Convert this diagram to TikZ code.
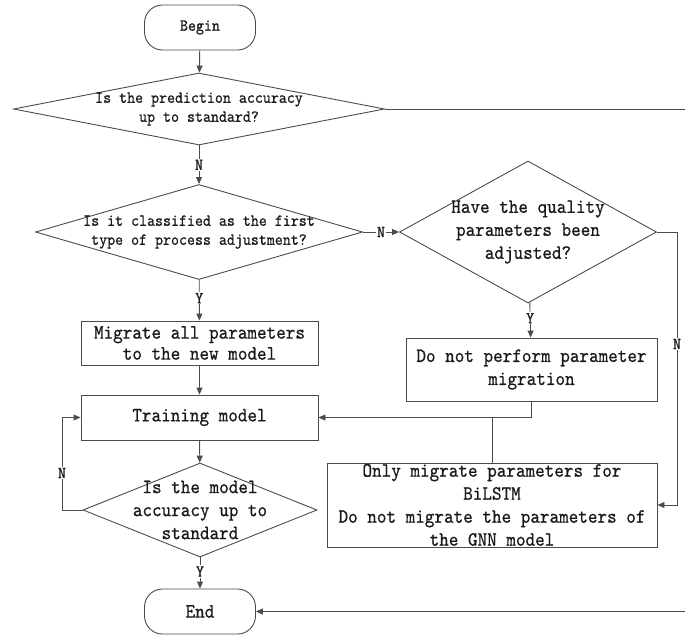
\documentclass[tikz,border=0pt]{standalone}
\usepackage{fontspec}
\newfontfamily\flowfont[FakeStretch=0.9,FakeBold=0.6]{lmmono10-regular.otf}
\usetikzlibrary{shapes.geometric,arrows.meta}
\newcommand{\bigtxt}{\fontsize{20.3}{23}\selectfont\flowfont}
\newcommand{\smalltxt}{\fontsize{16.9}{19}\selectfont\flowfont}
\begin{document}
\begin{tikzpicture}[x=1pt,y=-1pt,
  ln/.style={draw=black!70,line width=0.9pt},
  arr/.style={ln,-{Triangle[length=7pt,width=6pt]}},
  term/.style={ln,rectangle,rounded corners=18pt,minimum width=111pt,minimum height=45pt,inner sep=0pt},
  proc/.style={ln,rectangle,inner sep=0pt},
  dec/.style={ln,diamond,inner sep=0pt},
  btxt/.style={font=\bigtxt,align=center,inner sep=0pt,text=black!90},
  stxt/.style={font=\smalltxt,align=center,inner sep=0pt,text=black!90},
  lbl/.style={font=\smalltxt,fill=white,inner sep=1pt,text=black!90}]
\useasboundingbox (0,0) rectangle (685,635);
% shapes
\node[term] (begin) at (200,27.5) {};
\node[stxt] (begint) at (begin) {Begin};
\node[dec,minimum width=371pt,minimum height=72pt] (d1) at (199,109) {};
\node[stxt] (d1t) at (d1) {Is the prediction accuracy\\up to standard?};
\node[dec,minimum width=327pt,minimum height=95pt] (d2) at (199,232) {};
\node[stxt] (d2t) at (d2) {Is it classified as the first\\type of process adjustment?};
\node[dec,minimum width=257pt,minimum height=142pt] (d3) at (528,232) {};
\node[btxt] (d3t) at (d3) {Have the quality\\parameters been\\adjusted?};
\node[proc,minimum width=237pt,minimum height=44pt] (mig) at (199.5,343) {};
\node[btxt,font=\fontsize{20.3}{21}\selectfont\flowfont] (migt) at (mig) {Migrate all parameters\\to the new model};
\node[proc,minimum width=251pt,minimum height=63pt] (dnp) at (531.5,369.5) {};
\node[btxt] (dnpt) at (dnp) {Do not perform parameter\\migration};
\node[proc,minimum width=237pt,minimum height=45pt] (train) at (199.5,417.5) {};
\node[btxt] (traint) at (train) {Training model};
\node[proc,minimum width=330pt,minimum height=84pt] (only) at (492,505) {};
\node[btxt] (onlyt) at (only) {Only migrate parameters for\\BiLSTM\\Do not migrate the parameters of\\the GNN model};
\node[dec,minimum width=234pt,minimum height=94pt] (d4) at (200,510) {};
\node[btxt] (d4t) at (d4) {Is the model\\accuracy up to\\standard};
\node[term] (end) at (200,611.5) {};
\node[btxt] (endt) at (end) {End};
% helper coordinates
\coordinate (cR) at (677,232);
\coordinate (cL) at (62,510);
\coordinate (cF) at (692,109);
% connectors
\draw[arr] (begin) -- (d1);
\draw[arr] (d1) -- node[lbl,pos=0.5]{N} (d2);
\draw[arr] (d2.east) -- node[lbl,pos=0.5]{N} (d3.west);
\draw[arr] (d2) -- node[lbl,pos=0.45]{Y} (mig);
\draw[arr] (d3) -- node[lbl,pos=0.45]{Y} (dnp);
\draw[arr] (d3.east) -- (cR) -- node[lbl,pos=0.41]{N} (cR |- only.east) -- (only.east);
\draw[arr] (mig) -- (train);
\draw[arr] (dnp.south) |- (train.east);
\draw[ln] (only.north) -- (only.north |- train.east);
\draw[arr] (train) -- (d4);
\draw[arr] (d4.west) -- (cL) -- node[lbl,pos=0.4]{N} (cL |- train.west) -- (train.west);
\draw[arr] (d4) -- node[lbl,pos=0.45]{Y} (end);
\draw[arr] (d1.east) -- (cF) |- (end.east);
\end{tikzpicture}
\end{document}
